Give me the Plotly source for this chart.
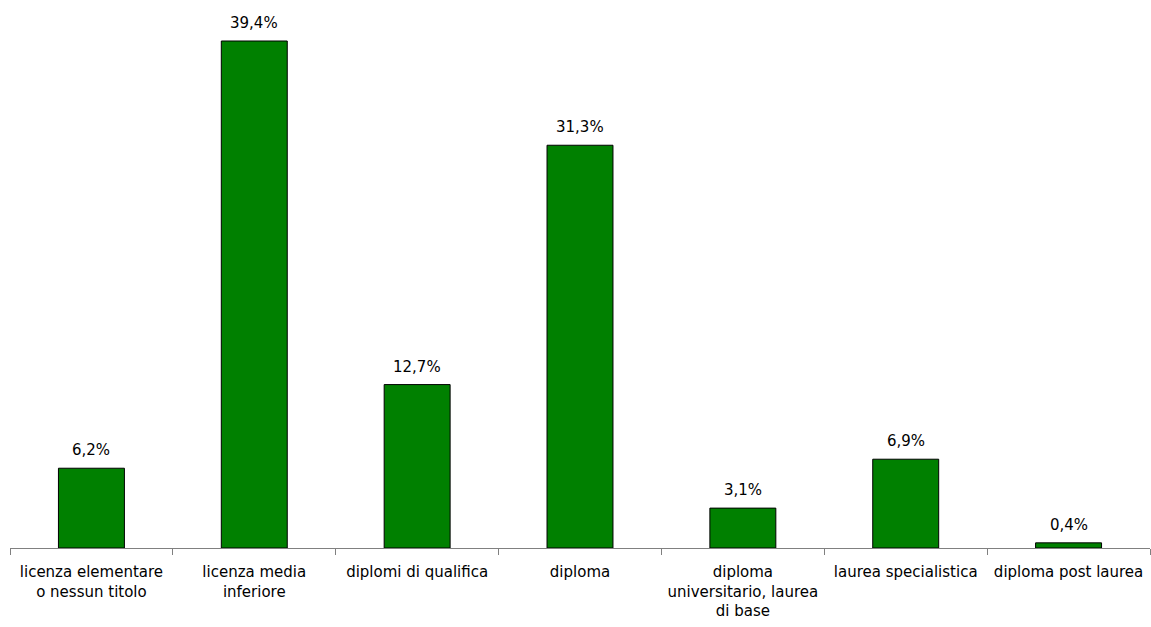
import plotly.graph_objects as go

categories = [
    "licenza elementare<br>o nessun titolo",
    "licenza media<br>inferiore",
    "diplomi di qualifica",
    "diploma",
    "diploma<br>universitario, laurea<br>di base",
    "laurea specialistica",
    "diploma post laurea",
]
values = [6.2, 39.4, 12.7, 31.3, 3.1, 6.9, 0.4]
value_labels = ["6,2%", "39,4%", "12,7%", "31,3%", "3,1%", "6,9%", "0,4%"]

FONT = "Tahoma, Verdana, DejaVu Sans, sans-serif"

fig = go.Figure()
fig.add_trace(go.Bar(
    x=categories, y=values,
    marker=dict(color="#008000", line=dict(color="#000000", width=1)),
    hoverinfo="skip",
))

for c, v, t in zip(categories, values, value_labels):
    fig.add_annotation(x=c, y=v, text=t, showarrow=False, yanchor="bottom",
                       yshift=7, font=dict(family=FONT, size=15, color="#000000"))

fig.update_layout(
    width=1151, height=627,
    margin=dict(l=10, r=1, t=10, b=79),
    paper_bgcolor="white", plot_bgcolor="white",
    bargap=0.595,
    showlegend=False,
    separators=",.",
    font=dict(family=FONT, size=15, color="#000000"),
)
fig.update_xaxes(
    type="category", showline=True, linecolor="#808080", linewidth=1,
    ticks="outside", tickson="boundaries", ticklen=6, tickcolor="#808080",
    showgrid=False, tickfont=dict(family=FONT, size=15, color="#000000"),
    ticklabelstandoff=10,
)
fig.update_yaxes(range=[0, 41.81], visible=False, showgrid=False, zeroline=False)

fig.write_html("out.html")
